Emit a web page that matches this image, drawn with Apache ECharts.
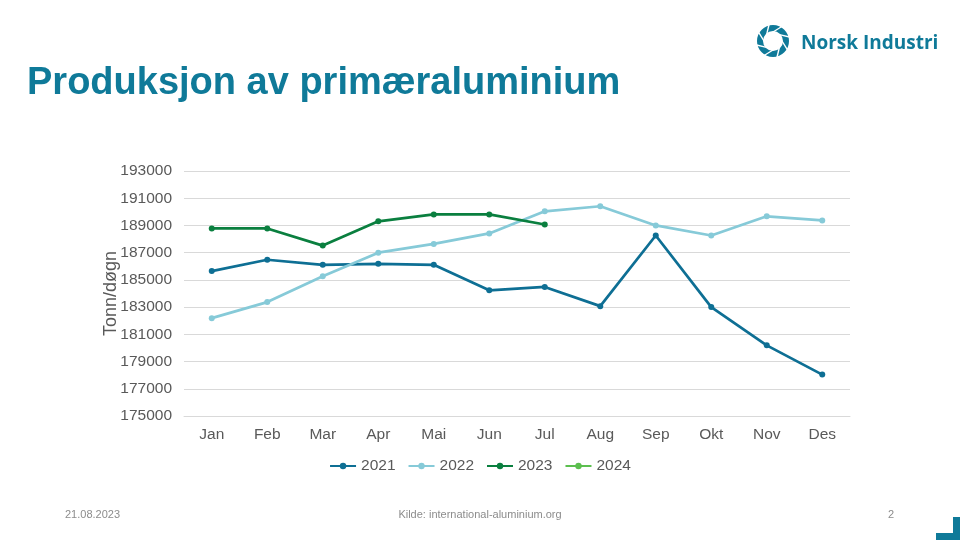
<!DOCTYPE html>
<html lang="no">
<head>
    <meta charset="UTF-8"/>
    <script src="https://cdn.jsdelivr.net/npm/echarts@6/dist/echarts.min.js"></script>
    <title>Produksjon av primæraluminium</title>
    <style>
        html, body { margin: 0; padding: 0; background: #fff; }
    </style>
</head>
<body>
<div id="main" style="width: 960px;height:540px;"></div>
<script type="text/javascript">
    // data (tonn/døgn)
    var months = ['Jan', 'Feb', 'Mar', 'Apr', 'Mai', 'Jun', 'Jul', 'Aug', 'Sep', 'Okt', 'Nov', 'Des'];
    var y2021 = [185650, 186480, 186110, 186180, 186110, 184230, 184480, 183070, 188260, 183000, 180190, 178040];
    var y2022 = [182190, 183370, 185270, 187000, 187640, 188410, 190040, 190410, 189000, 188260, 189670, 189370];
    var y2023 = [188780, 188780, 187520, 189300, 189810, 189810, 189070];
    var y2024 = [];
    var yTicks = [175000, 177000, 179000, 181000, 183000, 185000, 187000, 189000, 191000, 193000];

    var colors = ['#0e6f94', '#86cad8', '#0a7f3f', '#5cbf4f'];
    var teal = '#0f7a99';

    function lineSeries(name, data, color) {
        return {
            name: name,
            type: 'line',
            data: data,
            symbol: 'circle',
            symbolSize: 6,
            lineStyle: {width: 2.75, color: color},
            itemStyle: {color: color},
            emphasis: {disabled: true}
        };
    }

    // logo: a ring with slanted white cuts
    var cx = 773, cy = 41;
    var logo = [{
        type: 'sector',
        shape: {cx: cx, cy: cy, r: 16, r0: 10, startAngle: 0, endAngle: Math.PI * 2},
        style: {fill: teal}
    }];
    for (var i = 0; i < 8; i++) {
        var a = i * Math.PI / 4;
        logo.push({
            type: 'line',
            shape: {
                x1: cx + 9 * Math.cos(a), y1: cy + 9 * Math.sin(a),
                x2: cx + 17 * Math.cos(a + 0.55), y2: cy + 17 * Math.sin(a + 0.55)
            },
            style: {stroke: '#fff', lineWidth: 1.4}
        });
    }

    var myChart = echarts.init(document.getElementById('main'));

    var option = {
        animation: false,
        color: colors,
        textStyle: {fontFamily: 'Liberation Sans, Arial, sans-serif'},
        grid: {left: 184, right: 110, top: 171, bottom: 124},
        legend: {
            top: 453,
            left: 'center',
            itemWidth: 26,
            itemHeight: 8,
            itemGap: 12,
            textStyle: {fontSize: 15.5, color: '#595959'},
            data: ['2021', '2022', '2023', '2024']
        },
        xAxis: {
            type: 'category',
            data: months,
            boundaryGap: true,
            axisLine: {lineStyle: {color: '#d9d9d9'}},
            axisTick: {show: false},
            axisLabel: {fontSize: 15.5, color: '#595959', margin: 11}
        },
        yAxis: {
            type: 'value',
            min: yTicks[0],
            max: yTicks[yTicks.length - 1],
            interval: 2000,
            name: 'Tonn/døgn',
            nameLocation: 'middle',
            nameGap: 64,
            nameMoveOverlap: false,
            nameTextStyle: {fontSize: 18, color: '#595959'},
            axisLine: {show: false},
            axisTick: {show: false},
            axisLabel: {fontSize: 15.5, color: '#595959', margin: 12, formatter: function (v) { return String(v); }},
            splitLine: {lineStyle: {color: '#d9d9d9'}}
        },
        series: [
            lineSeries('2021', y2021, colors[0]),
            lineSeries('2022', y2022, colors[1]),
            lineSeries('2023', y2023, colors[2]),
            lineSeries('2024', y2024, colors[3])
        ],
        graphic: logo.concat([
            {
                type: 'text', x: 801, y: 44,
                style: {text: 'Norsk Industri', fill: teal, font: 'bold 19px "Open Sans", sans-serif', verticalAlign: 'middle'}
            },
            {
                type: 'text', x: 27, y: 84,
                style: {
                    text: 'Produksjon av primæraluminium', fill: teal,
                    font: 'bold 38px "Liberation Sans", Arial, sans-serif', verticalAlign: 'middle'
                }
            },
            {
                type: 'text', x: 65, y: 515,
                style: {text: '21.08.2023', fill: '#8c8c8c', font: '11px "Liberation Sans", Arial, sans-serif', verticalAlign: 'middle'}
            },
            {
                type: 'text', x: 480, y: 515,
                style: {text: 'Kilde: international-aluminium.org', fill: '#8c8c8c', font: '11px "Liberation Sans", Arial, sans-serif', align: 'center', verticalAlign: 'middle'}
            },
            {
                type: 'text', x: 888, y: 515,
                style: {text: '2', fill: '#8c8c8c', font: '11px "Liberation Sans", Arial, sans-serif', verticalAlign: 'middle'}
            },
            {type: 'rect', shape: {x: 953, y: 517, width: 7, height: 23}, style: {fill: teal}},
            {type: 'rect', shape: {x: 936, y: 533, width: 24, height: 7}, style: {fill: teal}}
        ])
    };

    myChart.setOption(option);
</script>
</body>
</html>
